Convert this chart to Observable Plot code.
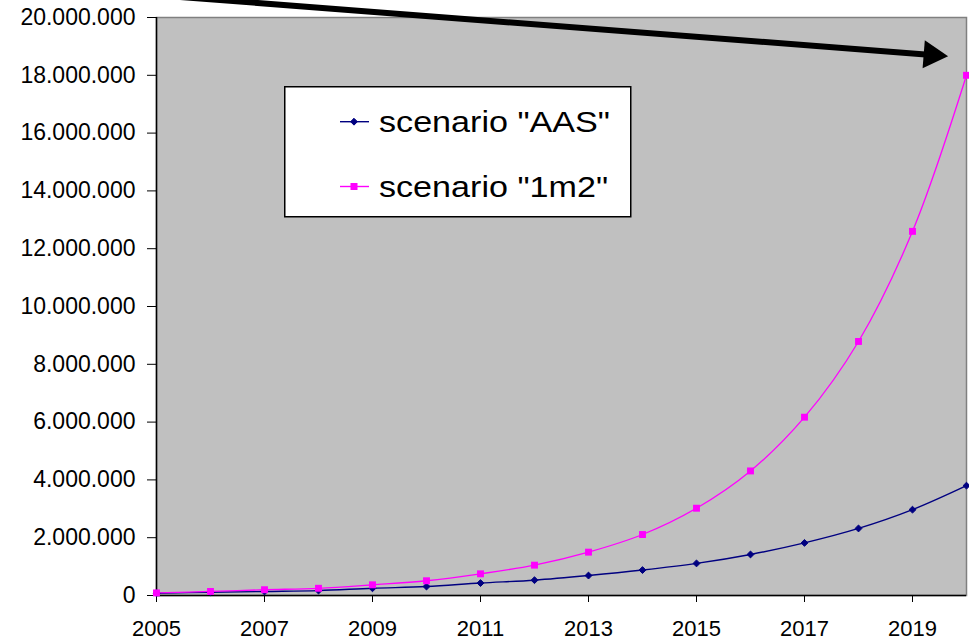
<!DOCTYPE html>
<html>
<head>
<meta charset="utf-8">
<script src="https://cdn.jsdelivr.net/npm/d3@7"></script>
<script src="https://cdn.jsdelivr.net/npm/@observablehq/plot@0.6"></script>
<style>
  html, body { margin: 0; padding: 0; background: #fff; }
  #wrap { position: relative; width: 969px; height: 641px; overflow: hidden; }
  #legend { position: absolute; left: 284px; top: 86px; }
</style>
</head>
<body>
<div id="wrap"></div>
<script>
// ---- data ----
const years = [2005, 2006, 2007, 2008, 2009, 2010, 2011, 2012, 2013, 2014, 2015, 2016, 2017, 2018, 2019, 2020];
const aas = [0.08e6, 0.11e6, 0.14e6, 0.17e6, 0.25e6, 0.31e6, 0.43e6, 0.53e6, 0.69e6, 0.88e6, 1.11e6, 1.42e6, 1.82e6, 2.32e6, 2.97e6, 3.80e6];
const oneM2 = [0.09e6, 0.14e6, 0.20e6, 0.25e6, 0.37e6, 0.51e6, 0.75e6, 1.05e6, 1.50e6, 2.11e6, 3.02e6, 4.31e6, 6.17e6, 8.79e6, 12.6e6, 18.0e6];
const seriesNames = ['scenario "AAS"', 'scenario "1m2"'];
const xTicks = [2005, 2007, 2009, 2011, 2013, 2015, 2017, 2019];
const yTicks = [0, 2e6, 4e6, 6e6, 8e6, 10e6, 12e6, 14e6, 16e6, 18e6, 20e6];
// arrow annotation (data units): start and head
const arrowStart = [2003.0, 21.06e6];
const arrowHead = [2019.358, 18.706e6];

const colors = ["#000080", "#FF00FF"];
const rowsAAS = years.map((y, i) => ({year: y, value: aas[i]}));
const rows1m2 = years.map((y, i) => ({year: y, value: oneM2[i]}));

const locale = d3.formatLocale({decimal: ",", thousands: ".", grouping: [3], currency: ["", ""]});
const fmt = locale.format(",d");

const chart = Plot.plot({
  width: 969,
  height: 641,
  marginLeft: 156,
  marginRight: 3,
  marginTop: 17,
  marginBottom: 46,
  style: {fontFamily: "'Liberation Sans', Arial, sans-serif", fontSize: "23px", color: "#000", background: "#fff", overflow: "visible"},
  x: {domain: [2005, 2020]},
  y: {domain: [0, 20e6]},
  marks: [
    Plot.frame({fill: "#C0C0C0", stroke: "#808080", strokeWidth: 1.5}),
    Plot.axisY({ticks: yTicks, tickFormat: fmt, tickSize: 9, tickPadding: 12, label: null, stroke: "#000", fontSize: 23}),
    Plot.axisX({ticks: xTicks, tickFormat: d => String(d), tickSize: 7, tickPadding: 18, label: null, stroke: "#000", fontSize: 22}),
    Plot.ruleX([2005], {stroke: "#000", strokeWidth: 1.5}),
    Plot.ruleY([0], {stroke: "#000", strokeWidth: 1.5}),
    Plot.line(rowsAAS, {x: "year", y: "value", stroke: colors[0], strokeWidth: 1.4, curve: "catmull-rom"}),
    Plot.line(rows1m2, {x: "year", y: "value", stroke: colors[1], strokeWidth: 1.3, curve: "catmull-rom"}),
    Plot.dot(rowsAAS, {x: "year", y: "value", symbol: "diamond2", r: 3.1, fill: colors[0], stroke: colors[0], strokeWidth: 1}),
    Plot.dot(rows1m2, {x: "year", y: "value", symbol: "square", r: 3.9, fill: colors[1], stroke: "none"}),
    Plot.link([{x1: arrowStart[0], y1: arrowStart[1], x2: arrowHead[0], y2: arrowHead[1]}],
      {x1: "x1", y1: "y1", x2: "x2", y2: "y2", stroke: "#000", strokeWidth: 6, clip: false}),
    Plot.dot([{x: arrowHead[0], y: arrowHead[1]}],
      {x: "x", y: "y", symbol: "triangle", r: 10.5, fill: "#000", stroke: "none", rotate: 94.5})
  ]
});

const wrap = document.getElementById("wrap");
wrap.appendChild(chart);

// legend inside the plot area
const leg = d3.select(wrap).append("svg")
  .attr("id", "legend")
  .attr("width", 349).attr("height", 132)
  .style("font-family", "'Liberation Sans', Arial, sans-serif");
leg.append("rect").attr("x", 0.75).attr("y", 0.75).attr("width", 346).attr("height", 130)
  .attr("fill", "#fff").attr("stroke", "#000").attr("stroke-width", 1.5);
const rowsY = [35.7, 100.5];
const widths = [231, 229];
seriesNames.forEach((name, i) => {
  const y = rowsY[i];
  leg.append("line").attr("x1", 56).attr("x2", 85).attr("y1", y).attr("y2", y)
    .attr("stroke", colors[i]).attr("stroke-width", 1.4);
  if (i === 0) {
    leg.append("path").attr("d", d3.symbol(d3.symbolDiamond2, 30)())
      .attr("transform", `translate(70,${y})`).attr("fill", colors[i]).attr("stroke", colors[i]);
  } else {
    leg.append("rect").attr("x", 66.5).attr("y", y - 3.5).attr("width", 7).attr("height", 7).attr("fill", colors[i]);
  }
  leg.append("text").attr("x", 95).attr("y", y + 10.3)
    .attr("font-size", 29.5).attr("textLength", widths[i]).attr("lengthAdjust", "spacingAndGlyphs")
    .attr("fill", "#000").text(name);
});
</script>
</body>
</html>
